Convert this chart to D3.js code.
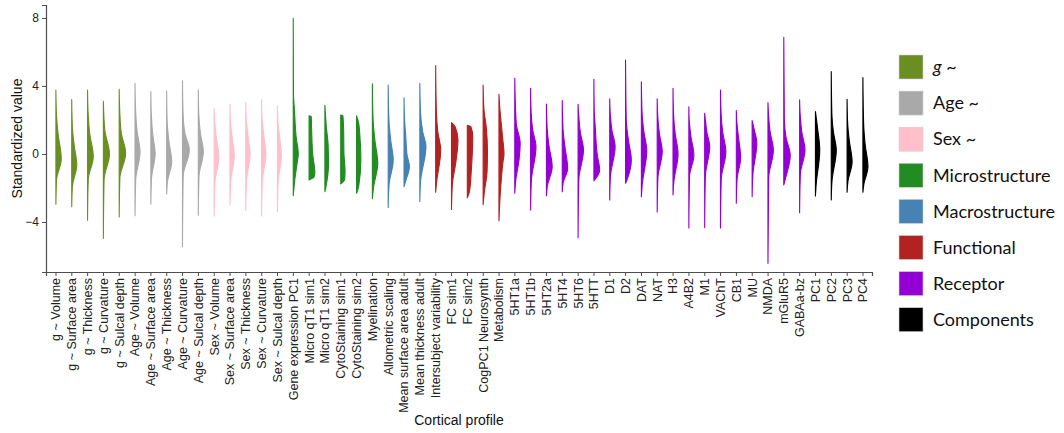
<!DOCTYPE html>
<html>
<head>
<meta charset="utf-8">
<script src="https://cdn.jsdelivr.net/npm/d3@7"></script>
<style>
  body { margin: 0; background: #fff; }
</style>
</head>
<body>
<div id="chart"></div>
<script>
// cortical profiles, in plotting order
var profiles = ["g ~ Volume", "g ~ Surface area", "g ~ Thickness", "g ~ Curvature", "g ~ Sulcal depth",
    "Age ~ Volume", "Age ~ Surface area", "Age ~ Thickness", "Age ~ Curvature", "Age ~ Sulcal depth",
    "Sex ~ Volume", "Sex ~ Surface area", "Sex ~ Thickness", "Sex ~ Curvature", "Sex ~ Sulcal depth",
    "Gene expression PC1", "Micro qT1 sim1", "Micro qT1 sim2", "CytoStaining sim1", "CytoStaining sim2", "Myelination",
    "Allometric scaling", "Mean surface area adult", "Mean thickness adult",
    "Intersubject variability", "FC sim1", "FC sim2", "CogPC1 Neurosynth", "Metabolism",
    "5HT1a", "5HT1b", "5HT2a", "5HT4", "5HT6", "5HTT", "D1", "D2", "DAT", "NAT", "H3", "A4B2", "M1",
    "VAChT", "CB1", "MU", "NMDA", "mGluR5", "GABAa-bz",
    "PC1", "PC2", "PC3", "PC4"];

var groupOf = ["g", "g", "g", "g", "g", "Age", "Age", "Age", "Age", "Age",
    "Sex", "Sex", "Sex", "Sex", "Sex",
    "Micro", "Micro", "Micro", "Micro", "Micro", "Micro",
    "Macro", "Macro", "Macro",
    "Func", "Func", "Func", "Func", "Func",
    "Rec", "Rec", "Rec", "Rec", "Rec", "Rec", "Rec", "Rec", "Rec", "Rec", "Rec", "Rec", "Rec",
    "Rec", "Rec", "Rec", "Rec", "Rec", "Rec",
    "Comp", "Comp", "Comp", "Comp"];

var groups = ["g", "Age", "Sex", "Micro", "Macro", "Func", "Rec", "Comp"];
var groupLabels = ["g ~", "Age ~", "Sex ~", "Microstructure", "Macrostructure", "Functional", "Receptor", "Components"];
var groupColors = ["#6b8e23", "#a9a9a9", "#ffc0cb", "#228b22", "#4682b4", "#b22222", "#9400d3", "#000000"];

// density outline of each profile: [standardized value, relative density]
var densities = [
    [[-2.96,0],[-1.5,0.1],[-0.3,0.75],[1.2,0.3],[2.3,0.08],[3.76,0]],
    [[-3.1,0],[-1.9,0.1],[-0.65,0.7],[0.5,0.35],[1.5,0.1],[3.2,0]],
    [[-3.9,0],[-1.5,0.1],[-0.15,0.8],[1.2,0.3],[2.4,0.08],[3.76,0]],
    [[-4.96,0],[-1.5,0.1],[0,0.85],[1.4,0.2],[3.1,0]],
    [[-3.7,0],[-1.4,0.1],[0.05,0.9],[1.2,0.3],[2.5,0.08],[3.8,0]],
    [[-3.63,0],[-1.5,0.1],[0.13,0.7],[1.3,0.3],[2.6,0.08],[4.15,0]],
    [[-2.94,0],[-1.4,0.1],[0,0.6],[1.2,0.25],[2.4,0.06],[3.67,0]],
    [[-2.35,0],[-1.6,0.12],[-0.45,0.7],[0.8,0.3],[2.0,0.06],[3.7,0]],
    [[-5.45,0],[-1.3,0.1],[0.24,0.95],[1.2,0.35],[2.4,0.08],[4.3,0]],
    [[-3.6,0],[-1.3,0.1],[0.13,0.7],[1.2,0.3],[2.4,0.06],[3.76,0]],
    [[-3.65,0],[-1.7,0.1],[-0.2,0.65],[1.0,0.3],[2.0,0.05],[2.69,0]],
    [[-3.0,0],[-1.6,0.1],[-0.1,0.6],[1.0,0.3],[2.0,0.05],[2.94,0]],
    [[-3.33,0],[-1.6,0.1],[0,0.6],[1.1,0.3],[2.1,0.05],[3.02,0]],
    [[-3.65,0],[-1.6,0.1],[0,0.6],[1.1,0.3],[2.2,0.05],[3.18,0]],
    [[-3.39,0],[-1.6,0.1],[-0.1,0.55],[1.0,0.3],[2.0,0.05],[2.82,0]],
    [[-2.45,0],[-1.4,0.25],[-0.5,0.55],[0,0.7],[1.0,0.4],[2.7,0.15],[3.5,0.03],[7.98,0]],
    [[-1.53,0],[-1.35,0.7],[-1.1,0.8],[0,0.5],[1.5,0.35],[2.2,0.3],[2.24,0]],
    [[-2.22,0],[-1.8,0.2],[-0.6,0.5],[0.5,0.45],[1.6,0.2],[2.86,0]],
    [[-1.76,0],[-1.5,0.55],[-1.0,0.6],[0,0.45],[1.5,0.4],[2.25,0.3],[2.29,0]],
    [[-2.31,0],[-1.9,0.3],[-0.3,0.6],[0.8,0.5],[1.8,0.3],[2.24,0]],
    [[-2.63,0],[-2.0,0.15],[-0.55,0.75],[0.8,0.35],[2.0,0.1],[4.12,0]],
    [[-3.14,0],[-1.8,0.12],[-0.35,0.7],[0.8,0.35],[2.0,0.1],[4.06,0]],
    [[-1.92,0],[-1.5,0.3],[-0.75,0.75],[0,0.4],[1.0,0.25],[2.0,0.08],[3.31,0]],
    [[-2.8,0],[-1.6,0.1],[0.43,0.85],[1.3,0.4],[2.4,0.1],[4.16,0]],
    [[-2.25,0],[-1.7,0.12],[0.24,0.7],[1.3,0.3],[2.5,0.1],[5.2,0]],
    [[-3.26,0],[-1.8,0.12],[-0.5,0.6],[0.82,0.9],[1.6,0.5],[1.84,0]],
    [[-2.57,0],[-2.2,0.3],[-1.0,0.55],[1.02,0.75],[1.6,0.5],[1.69,0]],
    [[-2.98,0],[-2.3,0.15],[-1,0.55],[0.2,0.6],[1.5,0.45],[2.7,0.1],[4.06,0]],
    [[-3.92,0],[-2.2,0.2],[-0.5,0.55],[0,0.7],[1.0,0.5],[2.8,0.1],[3.51,0]],
    [[-2.31,0],[-1.6,0.12],[-0.3,0.6],[0.63,0.75],[1.8,0.2],[4.45,0]],
    [[-3.29,0],[-1.6,0.1],[0.43,0.75],[1.4,0.3],[2.4,0.08],[3.86,0]],
    [[-2.45,0],[-1.9,0.12],[-0.75,0.8],[0.5,0.35],[1.5,0.1],[2.94,0]],
    [[-2.22,0],[-1.7,0.12],[-0.85,0.75],[0.5,0.35],[1.5,0.1],[3.14,0]],
    [[-4.92,0],[-1.5,0.1],[0.24,0.75],[1.3,0.3],[2.3,0.08],[2.92,0]],
    [[-1.57,0],[-1.3,0.5],[-0.94,0.8],[0,0.45],[1.5,0.2],[2.5,0.05],[4.39,0]],
    [[-2.7,0],[-1.3,0.1],[0.43,0.75],[1.4,0.3],[2.3,0.08],[3.24,0]],
    [[-1.72,0],[-1.4,0.3],[-0.35,0.8],[0.8,0.4],[2.0,0.1],[5.53,0]],
    [[-2.51,0],[-1.8,0.12],[0.2,0.75],[1.3,0.35],[2.4,0.1],[4.25,0]],
    [[-3.41,0],[-1.4,0.1],[0.14,0.7],[1.2,0.3],[2.2,0.08],[3.24,0]],
    [[-2.41,0],[-1.6,0.12],[0,0.7],[1.2,0.3],[2.3,0.08],[3.86,0]],
    [[-4.35,0],[-1.3,0.1],[-0.08,0.7],[1.0,0.3],[2.0,0.05],[2.78,0]],
    [[-4.33,0],[-1.3,0.1],[0.43,0.7],[1.3,0.3],[2.2,0.05],[2.39,0]],
    [[-4.35,0],[-1.5,0.1],[0.14,0.75],[1.3,0.3],[2.4,0.08],[3.76,0]],
    [[-2.9,0],[-1.5,0.1],[-0.2,0.6],[1.0,0.3],[2.0,0.05],[2.55,0]],
    [[-2.51,0],[-1.2,0.1],[0.63,0.65],[1.5,0.25],[1.96,0]],
    [[-6.43,0],[-1.4,0.1],[0.24,0.75],[1.3,0.3],[2.3,0.08],[3.02,0]],
    [[-1.82,0],[-1.5,0.2],[-0.08,0.9],[1.0,0.3],[2.0,0.08],[6.86,0]],
    [[-3.45,0],[-1.2,0.1],[0.24,0.75],[1.3,0.3],[2.3,0.08],[3.18,0]],
    [[-2.47,0],[-1.8,0.1],[0.24,0.6],[1.5,0.3],[2.49,0]],
    [[-2.7,0],[-1.6,0.1],[0.24,0.7],[1.3,0.3],[2.4,0.08],[4.84,0]],
    [[-2.25,0],[-1.6,0.12],[-0.45,0.7],[0.8,0.3],[1.8,0.08],[3.22,0]],
    [[-2.25,0],[-1.8,0.12],[-0.75,0.7],[0.6,0.3],[1.8,0.1],[4.49,0]]
];

var yTicks = [-4, 0, 4, 8];

var width = 1064, height = 433,
    margin = { top: 5, left: 46, right: 192, bottom: 161 },
    plotW = width - margin.left - margin.right,
    plotH = height - margin.top - margin.bottom,
    axisColor = "#4d4d4d",
    font = "'Liberation Sans', Arial, sans-serif";

var color = d3.scaleOrdinal().domain(groups).range(groupColors);

var svg = d3.select("#chart").append("svg")
    .attr("width", width)
    .attr("height", height);

var g = svg.append("g")
    .attr("transform", "translate(" + margin.left + "," + margin.top + ")");

var x = d3.scalePoint().domain(profiles).range([0, plotW]).padding(0.6);
var y = d3.scaleLinear().domain([-6.94, 8.76]).range([plotH, 0]);
var w = d3.scaleLinear().domain([0, 1]).range([0, 7.2]);

// half violins, drawn to the right of each tick
var area = d3.area()
    .y(function (d) { return y(d[0]); })
    .x0(0)
    .x1(function (d) { return w(d[1]); })
    .curve(d3.curveMonotoneY);

g.selectAll(".violin")
    .data(profiles)
    .enter()
    .append("path")
    .attr("class", "violin")
    .attr("transform", function (d) { return "translate(" + (x(d) + 0.4) + ",0)"; })
    .attr("d", function (d, i) { return area(densities[i]); })
    .attr("fill", function (d, i) { return color(groupOf[i]); })
    .attr("stroke", function (d, i) { return color(groupOf[i]); })
    .attr("stroke-width", 1.1)
    .attr("stroke-linejoin", "round");

// axes
var yAxis = g.append("g")
    .call(d3.axisLeft(y).tickValues(yTicks).tickSize(4).tickPadding(3));
var xAxis = g.append("g")
    .attr("transform", "translate(0," + plotH + ")")
    .call(d3.axisBottom(x).tickSize(4).tickPadding(3));

[xAxis, yAxis].forEach(function (ax) {
    ax.attr("font-family", font).attr("font-size", 12.5);
    ax.select(".domain").attr("stroke", axisColor).attr("stroke-width", 1.2);
    ax.selectAll(".tick line").attr("stroke", axisColor).attr("stroke-width", 1);
    ax.selectAll(".tick text").attr("fill", "#222");
});
yAxis.attr("font-size", 12);

xAxis.selectAll(".tick text")
    .attr("transform", "rotate(-90)")
    .attr("text-anchor", "end")
    .attr("x", -6)
    .attr("y", 0)
    .attr("dy", "0.35em");

svg.append("text")
    .attr("transform", "translate(22," + (margin.top + plotH / 2) + ") rotate(-90)")
    .attr("text-anchor", "middle")
    .attr("font-family", font)
    .attr("font-size", 14)
    .attr("fill", "#111")
    .text("Standardized value");

svg.append("text")
    .attr("x", margin.left + plotW / 2)
    .attr("y", 425)
    .attr("text-anchor", "middle")
    .attr("font-family", font)
    .attr("font-size", 14)
    .attr("fill", "#111")
    .text("Cortical profile");

// legend
var legend = svg.append("g").attr("transform", "translate(899,55)");
var rows = legend.selectAll(".row")
    .data(groups)
    .enter()
    .append("g")
    .attr("transform", function (d, i) { return "translate(0," + (i * 36.1) + ")"; });

rows.append("rect")
    .attr("width", 24)
    .attr("height", 24)
    .attr("fill", function (d) { return color(d); })
    .attr("stroke", "#d0d0d0")
    .attr("stroke-width", 0.6);

rows.append("text")
    .attr("x", 34)
    .attr("y", 12)
    .attr("dy", "0.35em")
    .attr("font-family", "Lato, 'Open Sans', sans-serif")
    .attr("font-size", 18)
    .attr("fill", "#111")
    .each(function (d, i) {
        var t = d3.select(this), lab = groupLabels[i];
        if (d === "g") {
            t.append("tspan").style("font-style", "italic").text("g");
            t.append("tspan").text(" ~");
        } else {
            t.text(lab);
        }
    });
</script>
</body>
</html>
